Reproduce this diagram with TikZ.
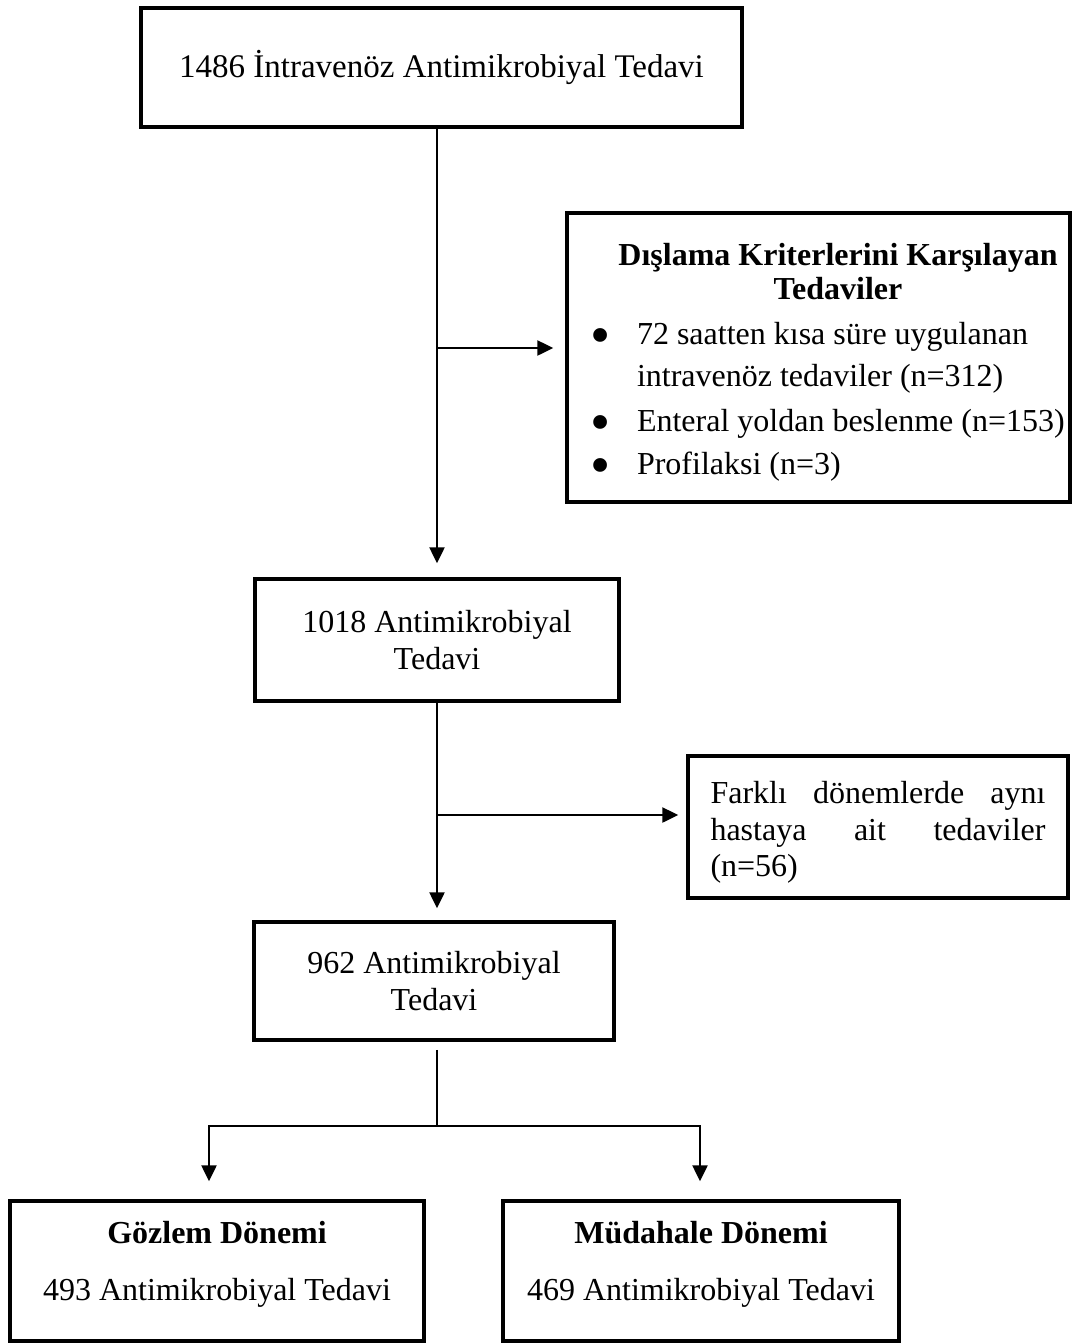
\documentclass[tikz,border=0pt]{standalone}
\usepackage{fontspec}
\setmainfont{Liberation Serif}
\usetikzlibrary{arrows.meta}

\newcommand{\listdot}{\makebox[47pt][l]{\smash{\raisebox{-0.33em}{\scalebox{1.8}{\textbullet}}}}}

\begin{document}
\begin{tikzpicture}[x=1pt, y=-1pt,
            box/.style={draw, line width=3.5pt, inner sep=0pt, align=center, font=\fontsize{32}{37}\selectfont},
            link/.style={line width=2.5pt},
            arr/.style={link, -{Triangle[length=16pt, width=15pt]}}]
            \useasboundingbox (0, 0) rectangle (1072, 1344);

            \node[box, minimum width=601pt, minimum height=119pt, font=\fontsize{33}{37}\selectfont] (total) at (441.5, 67.5) {1486 İntravenöz Antimikrobiyal Tedavi};
            \node[box, minimum width=503pt, minimum height=289pt, align=left, font=\fontsize{32}{34}\selectfont] (excl) at (818.5, 357.5) {\rule{0pt}{31pt}\makebox[493pt]{\hspace{39pt}\textbf{Dışlama Kriterlerini Karşılayan}}\\
                \makebox[493pt]{\hspace{39pt}\textbf{Tedaviler}}\\[11pt]
                \hspace*{18pt}\listdot 72 saatten kısa süre uygulanan\\[8pt]
                \hspace*{65pt}intravenöz tedaviler (n=312)\\[11pt]
                \hspace*{18pt}\listdot Enteral yoldan beslenme (n=153)\\[9pt]
                \hspace*{18pt}\listdot Profilaksi (n=3)};
            \node[box, minimum width=364pt, minimum height=122pt] (n1018) at (437, 640) {1018 Antimikrobiyal\\Tedavi};
            \node[box, minimum width=380pt, minimum height=142pt, text width=335pt, inner xsep=22.5pt, align=left, font=\fontsize{32}{36.5}\selectfont] (dup) at (878, 827) {\rule{0pt}{33pt}\makebox[335pt][s]{Farklı\hfill dönemlerde\hfill aynı}\\
                \makebox[335pt][s]{hastaya\hfill ait\hfill tedaviler}\\
                (n=56)};
            \node[box, minimum width=360pt, minimum height=118pt] (n962) at (434, 981) {962 Antimikrobiyal\\Tedavi};
            \node[box, minimum width=414pt, minimum height=140pt, font=\fontsize{32}{57}\selectfont] (obs) at (217, 1271) {\textbf{Gözlem Dönemi}\\493 Antimikrobiyal Tedavi\rule[-21pt]{0pt}{0pt}};
            \node[box, minimum width=396pt, minimum height=140pt, font=\fontsize{32}{57}\selectfont] (intv) at (701, 1271) {\textbf{Müdahale Dönemi}\\469 Antimikrobiyal Tedavi\rule[-21pt]{0pt}{0pt}};

            \coordinate (split1) at (437, 348);
            \coordinate (split2) at (437, 815);
            \coordinate (join) at (437, 1126);
            \coordinate (lsplit) at (209, 1126);
            \coordinate (rsplit) at (700, 1126);

            \draw[arr, shorten >=14pt] (split1 |- total.south) -- (split1 |- n1018.north);
            \draw[arr, shorten >=12pt] (split1) -- (split1 -| excl.west);
            \draw[arr, shorten >=12pt] (split2 |- n1018.south) -- (split2 |- n962.north);
            \draw[arr, shorten >=8pt] (split2) -- (split2 -| dup.west);
            \draw[link, shorten <=8pt] (join |- n962.south) -- (join);
            \draw[link, line cap=rect] (lsplit) -- (rsplit);
            \draw[arr, shorten >=18pt] (lsplit) -- (lsplit |- obs.north);
            \draw[arr, shorten >=18pt] (rsplit) -- (rsplit |- intv.north);
        \end{tikzpicture}
\end{document}
